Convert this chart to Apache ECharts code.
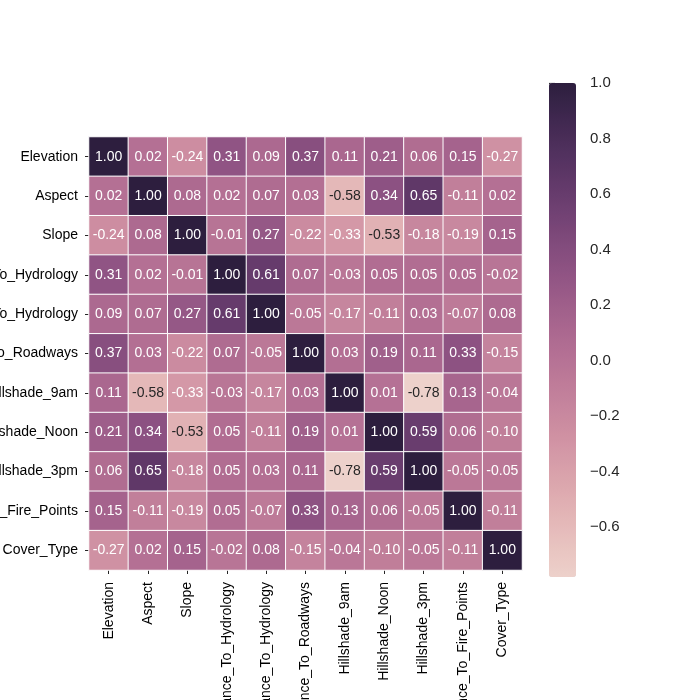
<!DOCTYPE html>
<html>
<head>
<meta charset="utf-8">
<script src="https://cdn.jsdelivr.net/npm/echarts@6/dist/echarts.min.js"></script>
<style>html,body{margin:0;padding:0;background:#fff;}#main{width:700px;height:700px;}</style>
</head>
<body>
<div id="main"></div>
<script>
const features = ["Elevation","Aspect","Slope","Horizontal_Distance_To_Hydrology","Vertical_Distance_To_Hydrology","Horizontal_Distance_To_Roadways","Hillshade_9am","Hillshade_Noon","Hillshade_3pm","Horizontal_Distance_To_Fire_Points","Cover_Type"];
const rowElevation = [1.00, 0.02, -0.24, 0.31, 0.09, 0.37, 0.11, 0.21, 0.06, 0.15, -0.27];
const rowAspect = [0.02, 1.00, 0.08, 0.02, 0.07, 0.03, -0.58, 0.34, 0.65, -0.11, 0.02];
const rowSlope = [-0.24, 0.08, 1.00, -0.01, 0.27, -0.22, -0.33, -0.53, -0.18, -0.19, 0.15];
const rowHDHydrology = [0.31, 0.02, -0.01, 1.00, 0.61, 0.07, -0.03, 0.05, 0.05, 0.05, -0.02];
const rowVDHydrology = [0.09, 0.07, 0.27, 0.61, 1.00, -0.05, -0.17, -0.11, 0.03, -0.07, 0.08];
const rowHDRoadways = [0.37, 0.03, -0.22, 0.07, -0.05, 1.00, 0.03, 0.19, 0.11, 0.33, -0.15];
const rowHillshade9am = [0.11, -0.58, -0.33, -0.03, -0.17, 0.03, 1.00, 0.01, -0.78, 0.13, -0.04];
const rowHillshadeNoon = [0.21, 0.34, -0.53, 0.05, -0.11, 0.19, 0.01, 1.00, 0.59, 0.06, -0.10];
const rowHillshade3pm = [0.06, 0.65, -0.18, 0.05, 0.03, 0.11, -0.78, 0.59, 1.00, -0.05, -0.05];
const rowHDFirePoints = [0.15, -0.11, -0.19, 0.05, -0.07, 0.33, 0.13, 0.06, -0.05, 1.00, -0.11];
const rowCoverType = [-0.27, 0.02, 0.15, -0.02, 0.08, -0.15, -0.04, -0.10, -0.05, -0.11, 1.00];
const colorbarTicks = [-0.6, -0.4, -0.2, 0.0, 0.2, 0.4, 0.6, 0.8, 1.0];
const vMin = -0.779, vMax = 1.0;

const rows = [rowElevation,rowAspect,rowSlope,rowHDHydrology,rowVDHydrology,rowHDRoadways,rowHillshade9am,rowHillshadeNoon,rowHillshade3pm,rowHDFirePoints,rowCoverType];

// seaborn cubehelix_palette(as_cmap=True): start=0, rot=0.4, hue=0.8, light=0.85, dark=0.15
function cubehelixRGB(l){
  const s=0, r=0.4, h=0.8;
  const a = h*l*(1-l)/2, phi = 2*Math.PI*(s/3 + r*l);
  const c=Math.cos(phi), sn=Math.sin(phi);
  const cl = v => Math.max(0, Math.min(1, v));
  return [cl(l + a*(-0.14861*c + 1.78277*sn)), cl(l + a*(-0.29227*c - 0.90649*sn)), cl(l + a*(1.97294*c))];
}
function toHex(rgb){ return '#' + rgb.map(v => Math.round(v*255).toString(16).padStart(2,'0')).join(''); }
function colorFor(t){ return cubehelixRGB(0.85 + (0.15-0.85)*t); }
const stops = [];
for (let i=0;i<=40;i++) stops.push(toHex(colorFor(i/40)));
function lum(rgb){
  const lin = rgb.map(v => v <= 0.03928 ? v/12.92 : Math.pow((v+0.055)/1.055, 2.4));
  return 0.2126*lin[0] + 0.7152*lin[1] + 0.0722*lin[2];
}

const data = [];
rows.forEach((row, yi) => row.forEach((v, xi) => {
  const t = (v - vMin)/(vMax - vMin);
  const txt = lum(colorFor(Math.max(0, Math.min(1, t)))) > 0.408 ? '#262626' : '#ffffff';
  data.push({ value: [xi, yi, v], label: { color: txt } });
}));

const font = '"Liberation Sans", Arial, sans-serif';
const chart = echarts.init(document.getElementById('main'));
chart.setOption({
  backgroundColor: '#fff',
  animation: false,
  grid: [
    { left: 89, top: 137, width: 433, height: 433, containLabel: false, outerBoundsMode: 'none' },
    { left: 549, top: 83, width: 27, height: 494, containLabel: false, outerBoundsMode: 'none' }
  ],
  xAxis: [
    { type: 'category', data: features, gridIndex: 0,
      axisLine: { show: false }, splitLine: { show: false },
      axisTick: { show: true, alignWithLabel: true, length: 4, lineStyle: { color: '#262626', width: 1 } },
      axisLabel: { rotate: 90, margin: 12, color: '#000', fontFamily: font, fontSize: 14, interval: 0 } },
    { type: 'value', gridIndex: 1, show: false, min: 0, max: 1 }
  ],
  yAxis: [
    { type: 'category', data: features, inverse: true, gridIndex: 0,
      axisLine: { show: false }, splitLine: { show: false },
      axisTick: { show: true, alignWithLabel: true, length: 4, lineStyle: { color: '#262626', width: 1 } },
      axisLabel: { margin: 11, color: '#000', fontFamily: font, fontSize: 14, interval: 0 } },
    { type: 'value', gridIndex: 1, position: 'right', min: vMin, max: vMax,
      axisLine: { show: false }, splitLine: { show: false },
      axisTick: { show: true, length: 6, customValues: colorbarTicks, lineStyle: { color: '#262626', width: 1.2 } },
      axisLabel: { customValues: colorbarTicks, margin: 14, color: '#262626', fontFamily: font, fontSize: 15,
        formatter: v => v.toFixed(1).replace('-', '\u2212') } }
  ],
  visualMap: {
    type: 'continuous', min: vMin, max: vMax, calculable: false, orient: 'vertical',
    left: 549, top: 83, itemWidth: 27, itemHeight: 494, padding: 0, text: null,
    showLabel: false, hoverLink: false, seriesIndex: 0,
    inRange: { color: stops }
  },
  series: [{
    type: 'heatmap', xAxisIndex: 0, yAxisIndex: 0, data: data,
    itemStyle: { borderColor: '#ffffff', borderWidth: 1 },
    label: { show: true, fontFamily: font, fontSize: 14, formatter: p => p.value[2].toFixed(2) },
    emphasis: { disabled: true }
  }]
});
</script>
</body>
</html>
